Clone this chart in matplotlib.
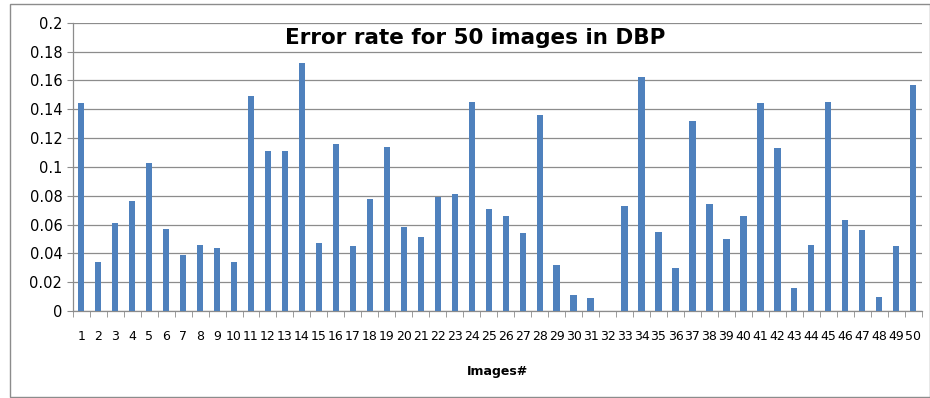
import numpy as np
import matplotlib.pyplot as plt
from matplotlib.patches import Rectangle
from matplotlib.ticker import FixedLocator

# Taxa de erro por imagem
images = list(range(1, 51))
error_rate = [0.144, 0.034, 0.061, 0.076, 0.103, 0.057, 0.039, 0.046, 0.044, 0.034,
              0.149, 0.111, 0.111, 0.172, 0.047, 0.116, 0.045, 0.078, 0.114, 0.058,
              0.051, 0.079, 0.081, 0.145, 0.071, 0.066, 0.054, 0.136, 0.032, 0.011,
              0.009, 0.0, 0.073, 0.162, 0.055, 0.030, 0.132, 0.074, 0.050, 0.066,
              0.144, 0.113, 0.016, 0.046, 0.145, 0.063, 0.056, 0.010, 0.045, 0.157]
yticks = [0, 0.02, 0.04, 0.06, 0.08, 0.1, 0.12, 0.14, 0.16, 0.18, 0.2]
ytick_labels = ['0', '0.02', '0.04', '0.06', '0.08', '0.1', '0.12', '0.14', '0.16', '0.18', '0.2']

W, H = 930, 398
fig = plt.figure(figsize=(W / 100, H / 100), dpi=100)
ax = fig.add_axes([72.7 / W, 1 - 311 / H, (921.7 - 72.7) / W, (311 - 22.7) / H])

ax.bar(images, error_rate, width=0.37, color='#4F81BD', zorder=3)

ax.set_xlim(0.5, 50.5)
ax.set_ylim(0, 0.2)
ax.set_yticks(yticks)
ax.set_yticklabels(ytick_labels)
ax.yaxis.grid(True, color='#8c8c8c', linewidth=0.9, zorder=0)

ax.set_xticks(images)
ax.set_xticklabels([str(i) for i in images])
# marcas entre categorias (estilo Excel)
ax.xaxis.set_minor_locator(FixedLocator(np.arange(0.5, 51, 1)))
ax.tick_params(axis='x', which='major', length=0, pad=14, labelsize=9)
ax.tick_params(axis='x', which='minor', length=4, color='#8c8c8c', direction='out')
ax.tick_params(axis='y', length=4, color='#8c8c8c', pad=3.5, labelsize=10.5)

for s in ['top', 'right']:
    ax.spines[s].set_visible(False)
for s in ['left', 'bottom']:
    ax.spines[s].set_color('#8c8c8c')
    ax.spines[s].set_linewidth(0.9)

# título e rótulo do eixo x
fig.text(475 / W, 1 - 44.5 / H, 'Error rate for 50 images in DBP',
         ha='center', va='baseline', fontsize=15.5, fontweight='bold')
fig.text(497 / W, 1 - 375 / H, 'Images#', ha='center', va='baseline',
         fontsize=9, fontweight='bold')

# moldura externa
fig.patches.append(Rectangle((10 / W, 1 - 397 / H), 919.5 / W, 393 / H,
                             transform=fig.transFigure, fill=False,
                             edgecolor='#8c8c8c', linewidth=1))

fig.savefig('out.png', dpi=100)
